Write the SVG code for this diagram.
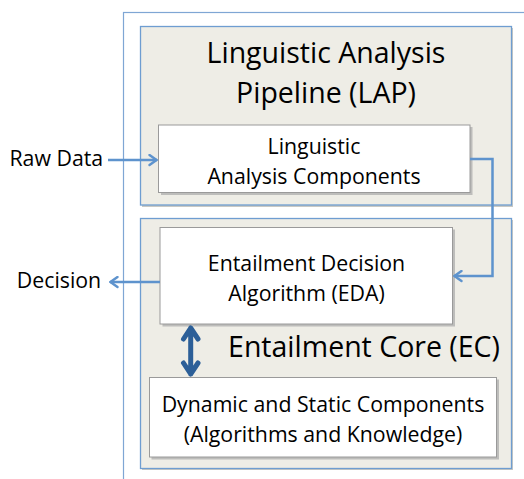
<svg xmlns="http://www.w3.org/2000/svg" width="524" height="479" viewBox="0 0 524 479">
<defs>
<style>
.frame{fill:none;stroke:#7FA6D4;stroke-width:1.2}
.group{fill:#EEEDE6;stroke:#6E9DD1;stroke-width:1.3}
.gshadow{fill:#C9C9C4}
.box{fill:#FFFFFF;stroke:#9A9A9A;stroke-width:1}
.shadow{fill:#A8A8A8;opacity:0.7}
text{font-family:"Open Sans",Lato,"Liberation Sans",sans-serif;fill:#000;text-anchor:middle}
.big{font-size:28.5px}
.mid{font-size:21.3px}
.conn{fill:none;stroke:#5E93CD;stroke-width:2.5}
.dbl{fill:none;stroke:#2C5F98;stroke-width:5;stroke-linecap:round;stroke-linejoin:round}
</style>
<marker id="ah" viewBox="0 0 10 13" refX="9" refY="6.5" markerWidth="10" markerHeight="13" markerUnits="userSpaceOnUse" orient="auto">
<path d="M1.5,1.5 L8.5,6.5 L1.5,11.5" fill="none" stroke="#5E93CD" stroke-width="2.4" stroke-linecap="round" stroke-linejoin="miter"/>
</marker>
</defs>
<rect x="123.5" y="12.5" width="420" height="500" class="frame"/>
<g id="lap">
<rect x="142" y="28" width="371" height="179" class="gshadow"/>
<rect x="140.5" y="26.5" width="371" height="178.5" class="group"/>
<text x="326" y="63" class="big">Linguistic Analysis</text>
<text x="326" y="103" class="big">Pipeline (LAP)</text>
</g>
<g id="ec">
<rect x="142" y="220" width="371" height="250" class="gshadow"/>
<rect x="140.5" y="218.5" width="371" height="250" class="group"/>
<text x="364" y="357" class="big">Entailment Core (EC)</text>
</g>
<g id="lac">
<rect x="161" y="127" width="311.5" height="68" class="shadow"/>
<rect x="158.5" y="125" width="311.5" height="67.5" class="box"/>
<text x="314" y="154" class="mid">Linguistic</text>
<text x="314" y="184" class="mid">Analysis Components</text>
</g>
<g id="eda">
<rect x="162.5" y="229.5" width="292.5" height="97" class="shadow"/>
<rect x="160" y="227.5" width="292.5" height="96.5" class="box"/>
<text x="306.5" y="271" class="mid">Entailment Decision</text>
<text x="306.5" y="301" class="mid">Algorithm (EDA)</text>
</g>
<g id="dsc">
<rect x="151.5" y="379.5" width="347.5" height="80" class="shadow"/>
<rect x="149.5" y="377.5" width="347" height="79.5" class="box"/>
<text x="323" y="412" class="mid">Dynamic and Static Components</text>
<text x="323" y="442" class="mid">(Algorithms and Knowledge)</text>
</g>
<g id="raw">
<text x="56.3" y="166" class="mid">Raw Data</text>
</g>
<g id="decision">
<text x="59" y="287.5" class="mid">Decision</text>
</g>
<g id="connectors">
<path d="M108,160 L157,160" class="conn" marker-end="url(#ah)"/>
<path d="M160,282 L110,282" class="conn" marker-end="url(#ah)"/>
<path d="M470,159 L492.5,159 L492.5,276 L454,276" class="conn" marker-end="url(#ah)"/>
<path d="M190.7,328 L190.7,374 M183.5,339 L190.7,328 L198,339 M183.5,363 L190.7,374 L198,363" class="dbl"/>
</g>
</svg>
